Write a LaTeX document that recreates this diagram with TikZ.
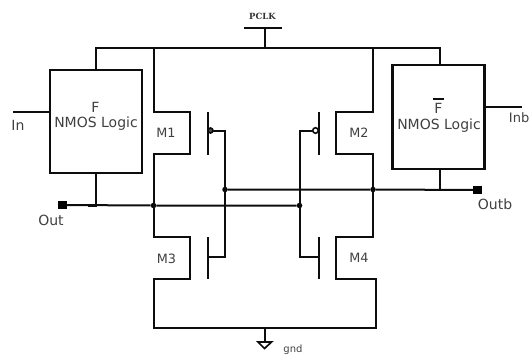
\documentclass[tikz,border=0pt]{standalone}
\usepackage{fontspec}
\setmainfont{DejaVu Sans}
\newfontfamily\pclkfont{DejaVu Serif}
\tikzset{
  wire/.style={line width=2pt,line join=miter,color=black!95},
  thinwire/.style={line width=1.7pt,color=black!95},
  logicbox/.style={draw=black!95,line width=2.2pt,minimum width=92pt,inner sep=0pt},
  lbl/.style={inner sep=0pt,font=\fontsize{14}{16}\selectfont,text=black!75},
  mlbl/.style={inner sep=0pt,font=\fontsize{12.8}{15}\selectfont,text=black!75},
  term/.style={fill=black,inner sep=0pt,minimum width=9pt,minimum height=8.5pt},
  jdot/.style={circle,fill=black,inner sep=0pt,minimum size=5.5pt},
  bub/.style={circle,draw=black!95,line width=1.6pt,fill=white,inner sep=0pt,minimum size=5.5pt}
}
\begin{document}
\begin{tikzpicture}[x=1pt,y=-1pt]
\useasboundingbox (0,0) rectangle (530,356);
% logic boxes
\node[logicbox,minimum height=103pt] (fbox) at (96,121.5) {};
\node[logicbox,minimum height=104pt] (fbbox) at (438.5,117) {};
\node[lbl] (ftext) at (95.5,107) {F};
\node[lbl] (ntext) at (96,124) {NMOS Logic};
\node[lbl] (fbtext) at (438.5,108) {F};
\draw[wire] ([xshift=-5.5pt,yshift=9pt]fbtext.center) -- ([xshift=5.5pt,yshift=9pt]fbtext.center);
\node[lbl] (nbtext) at (439,125.5) {NMOS Logic};
% labels
\node[mlbl] (m1) at (166,133) {M1};
\node[mlbl] (m2) at (359,133) {M2};
\node[mlbl] (m3) at (166.5,258.5) {M3};
\node[mlbl] (m4) at (359,258) {M4};
\node[lbl] (intext) at (18,125) {In};
\node[lbl,anchor=east,font=\fontsize{13}{15}\selectfont] (inb) at (529.5,118) {Inb};
\node[lbl] (outt) at (51,220) {Out};
\node[lbl] (outbt) at (495,204.5) {Outb};
\node[inner sep=0pt,font=\pclkfont\bfseries\fontsize{8.5}{10}\selectfont,text=black!80] (pclk) at (262.5,16.5) {PCLK};
\node[inner sep=0pt,font=\fontsize{10}{12}\selectfont,text=black!75] (gnd) at (293,350) {gnd};
% terminals and junctions
\node[term] (outn) at (62.5,205) {};
\node[term] (outbn) at (477.5,190) {};
\node[jdot] (j1) at (153.5,205.5) {};
\node[jdot] (j2) at (225,189.5) {};
\node[jdot] (j3) at (299.5,205.5) {};
\node[jdot] (j4) at (373,189.5) {};
% named coordinates
\coordinate (pin) at (264.5,47.5);
\coordinate (g1) at (208,131);
\coordinate (g2) at (318.5,131);
\coordinate (g3) at (208,257);
\coordinate (g4) at (318.5,257);
\coordinate (bottom) at (264.5,328);
% supply
\draw[wire] (244,27.5) -- (282,27.5);
\draw[wire] (264.5,27.5) -- (pin);
\draw[wire] (fbox.north) -- (96,47.5) -- (440,47.5) -- (440,65);
% column
\draw[wire] (153.5,47.5) -- (153.5,112) -- (190,112) -- (190,154) -- (153.5,154) -- (j1.center)
  -- (153.5,237) -- (190,237) -- (190,278.5) -- (153.5,278.5) -- (153.5,328) -- (376,328)
  -- (376,278.5) -- (336,278.5) -- (336,237) -- (373,237) -- (j4.center) -- (373,154)
  -- (336,154) -- (336,112) -- (373,112) -- (373,47.5);
% gates
\draw[wire] (208,112) -- (208,154.5);
\draw[wire] (208,237) -- (208,279);
\draw[wire] (318.5,112) -- (318.5,154.5);
\draw[wire] (318.5,237) -- (318.5,279);
\draw[wire] (g1) -- (225,131) -- (j2.center) -- (225,257) -- (g3);
\draw[wire] (g2) -- (299.5,131) -- (j3.center) -- (299.5,257) -- (g4);
\node[bub,fill=black!70,minimum size=5pt] (b1) at (210.5,130.5) {};
\node[bub] (b2) at (315.5,130.5) {};
% cross connections
\draw[wire] (outn) -- (j1) -- (j3);
\draw[wire] (j2) -- (j4) -- (outbn);
\coordinate (tick) at (88,205.5);
\draw[wire] (fbox.south) -- (96,205.5) -- (tick);
\coordinate (tap) at (440,189.5);
\draw[wire] (tap |- fbbox.south) -- (tap);
% inputs and outputs
\coordinate (inend) at (13,112);
\coordinate (inbend) at (522,107);
\draw[wire] (inend) -- (fbox.west |- inend);
\draw[wire] (fbbox.east |- inbend) -- (inbend);
% ground
\draw[wire] (bottom) -- (264.5,342);
\draw[thinwire,line join=miter] (258,342) -- (271.5,342) -- (264.5,348.5) -- cycle;
\end{tikzpicture}
\end{document}
